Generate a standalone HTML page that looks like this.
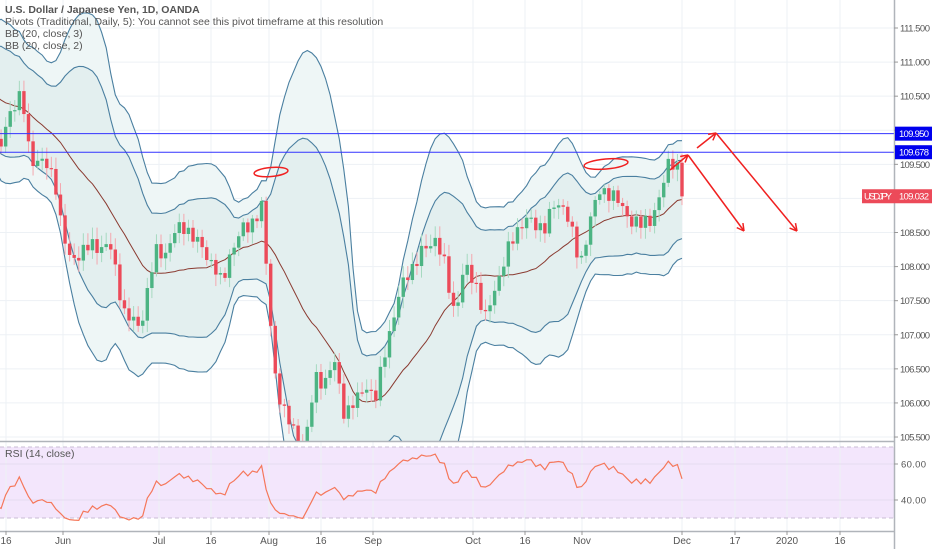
<!DOCTYPE html>
<html><head><meta charset="utf-8">
<style>
html,body{margin:0;padding:0;background:#fff;width:932px;height:550px;overflow:hidden;font-family:"Liberation Sans",sans-serif}
svg{display:block}
svg text{font-family:"Liberation Sans",sans-serif}
</style></head><body>
<svg id="c" width="932" height="550" xmlns="http://www.w3.org/2000/svg"></svg>
<script>
const S=document.getElementById('c');let h='';
const py=p=>28+(111.5-p)*68.17;
const cy=p=>Math.min(445,Math.max(-5,py(p)));
const ry=r=>Math.min(535,Math.max(440,518-(r-30)/40*71));
const xl=[[6,'16'],[63,'Jun'],[159,'Jul'],[211,'16'],[269,'Aug'],[321,'16'],[373,'Sep'],[473,'Oct'],[525,'16'],[582,'Nov'],[682,'Dec'],[735,'17'],[787,'2020'],[840,'16']];
h+='<rect x="0" y="447" width="894" height="71" fill="#f3e6fc"/>';
xl.forEach(a=>{h+=`<line x1="${a[0]}" y1="0" x2="${a[0]}" y2="531" stroke="#edf1f5"/>`});
for(let p=105.5;p<=111.51;p+=0.5){h+=`<line x1="0" y1="${py(p)}" x2="894" y2="${py(p)}" stroke="#edf1f5"/>`}
h+=`<line x1="0" y1="464" x2="894" y2="464" stroke="#e6dcf0"/><line x1="0" y1="500" x2="894" y2="500" stroke="#e6dcf0"/>`;
const anc=[[-95,110.7],[-60,110.9],[-30,110.3],[0,109.7],[10,110.3],[22,110.5],[30,109.6],[45,109.5],[55,109.3],[62,108.5],[70,108.1],[90,108.3],[110,108.3],[125,107.3],[140,107.1],[155,108.2],[165,108.2],[175,108.5],[185,108.6],[195,108.4],[205,108.2],[215,108.0],[222,107.7],[230,108.2],[240,108.5],[250,108.6],[262,108.9],[268,107.6],[276,106.3],[285,105.8],[295,105.6],[305,105.3],[315,106.4],[325,106.3],[335,106.6],[345,105.8],[355,106.0],[365,106.3],[375,106.0],[385,106.8],[395,107.3],[405,107.9],[415,108.0],[425,108.3],[435,108.4],[445,108.0],[455,107.3],[465,108.0],[475,107.8],[485,107.2],[495,107.7],[505,108.1],[515,108.5],[525,108.7],[535,108.6],[545,108.6],[555,108.9],[565,108.9],[575,108.3],[580,108.0],[590,108.7],[600,109.1],[610,109.1],[620,108.9],[630,108.7],[640,108.6],[650,108.7],[660,109.0],[668,109.5],[676,109.6],[682,109.03]];
function interp(x){for(let i=1;i<anc.length;i++){if(x<=anc[i][0]){const a=anc[i-1],b=anc[i];return a[1]+(b[1]-a[1])*(x-a[0])/(b[0]-a[0]);}}return anc[anc.length-1][1];}
const sp=4.57,N=170;const X=[],C=[];
for(let i=0;i<N;i++){const x=682-(N-1-i)*sp;X.push(x);let c=interp(x);if(i<N-1)c+=0.09*Math.sin(i*2.7)+0.05*Math.sin(i*1.3+1);C.push(c);}
const O=[],H=[],L=[];
for(let i=0;i<N;i++){const o=i?C[i-1]:C[0];O.push(o);H.push(Math.max(o,C[i])+0.05+0.12*Math.abs(Math.sin(i*3.1)));L.push(Math.min(o,C[i])-0.05-0.12*Math.abs(Math.cos(i*2.3)));}
const M=[],U2=[],D2=[],U3=[],D3=[],BX=[];
for(let i=19;i<N;i++){let s=0;for(let j=i-19;j<=i;j++)s+=C[j];const m=s/20;let v=0;for(let j=i-19;j<=i;j++)v+=(C[j]-m)**2;const sd=Math.sqrt(v/20);BX.push(X[i]);M.push(m);U2.push(m+2*sd);D2.push(m-2*sd);U3.push(m+3*sd);D3.push(m-3*sd);}
const pl=(A)=>A.map((p,k)=>`${BX[k].toFixed(1)},${cy(p).toFixed(1)}`).join(' ');
const area=(A,B)=>{const a=A.map((p,k)=>`${BX[k].toFixed(1)},${cy(p).toFixed(1)}`);const b=B.map((p,k)=>`${BX[k].toFixed(1)},${cy(p).toFixed(1)}`).reverse();return a.concat(b).join(' ');};
h+='<svg x="0" y="0" width="894" height="441" overflow="hidden">';
h+=`<polygon points="${area(U3,D3)}" fill="#eef6f6"/>`;
h+=`<polygon points="${area(U2,D2)}" fill="#e3efef"/>`;
[U3,D3,U2,D2].forEach(A=>{h+=`<polyline points="${pl(A)}" fill="none" stroke="#4a7fa0" stroke-width="1.1"/>`});
h+=`<polyline points="${pl(M)}" fill="none" stroke="#8a3a30" stroke-width="1"/>`;
for(let i=19;i<N;i++){const x=X[i];const up=C[i]>=O[i];const col=up?'#4cb483':'#ec4a59';const wc=up?'#a6d9c0':'#f4a7ae';
h+=`<line x1="${x}" y1="${cy(H[i])}" x2="${x}" y2="${cy(L[i])}" stroke="${wc}"/>`;
const t=cy(Math.max(O[i],C[i])),b=cy(Math.min(O[i],C[i]));h+=`<rect x="${x-1.7}" y="${t}" width="3.4" height="${Math.max(1.2,b-t)}" fill="${col}"/>`;}
h+='</svg>';
h+=`<line x1="0" y1="${py(109.95)}" x2="894" y2="${py(109.95)}" stroke="#3333ff"/>`;
h+=`<line x1="0" y1="${py(109.678)}" x2="894" y2="${py(109.678)}" stroke="#3333ff"/>`;
h+=`<ellipse cx="271" cy="172" rx="17" ry="4.5" fill="none" stroke="#f02020" stroke-width="1.5" transform="rotate(-5 271 172)"/>`;
h+=`<ellipse cx="606" cy="164" rx="22" ry="5" fill="none" stroke="#f02020" stroke-width="1.5" transform="rotate(-5 606 164)"/>`;
function arrow(x1,y1,x2,y2){const a=Math.atan2(y2-y1,x2-x1),l=8;let s=`<line x1="${x1}" y1="${y1}" x2="${x2}" y2="${y2}" stroke="#f02020" stroke-width="1.5"/>`;[0.5,-0.5].forEach(d=>{s+=`<line x1="${x2}" y1="${y2}" x2="${x2-l*Math.cos(a+d)}" y2="${y2-l*Math.sin(a+d)}" stroke="#f02020" stroke-width="1.5"/>`});return s;}
h+=arrow(670,170,688,155)+arrow(688,155,744,231)+arrow(697,148,716,133)+arrow(716,133,797,231);
h+=`<line x1="0" y1="447" x2="894" y2="447" stroke="#c8bcd4" stroke-dasharray="4,3"/><line x1="0" y1="518" x2="894" y2="518" stroke="#c8bcd4" stroke-dasharray="4,3"/>`;
let ag=0,al=0;const R=[];for(let i=1;i<N;i++){const d=C[i]-C[i-1];const g=Math.max(d,0),lo=Math.max(-d,0);if(i<=14){ag+=g/14;al+=lo/14;}else{ag=(ag*13+g)/14;al=(al*13+lo)/14;}if(i>=19){let r=100-100/(1+ag/(al||1e-9));r=50+(r-50)*0.7;R.push(`${X[i].toFixed(1)},${ry(r).toFixed(1)}`);}}
h+=`<polyline points="${R.join(' ')}" fill="none" stroke="#f5775a" stroke-width="1.2"/>`;
h+=`<line x1="0" y1="441.5" x2="894" y2="441.5" stroke="#b0b4ba" stroke-width="1.5"/>`;
h+=`<line x1="0" y1="531.5" x2="894" y2="531.5" stroke="#b0b4ba" stroke-width="1.5"/>`;
h+=`<line x1="894.5" y1="0" x2="894.5" y2="549" stroke="#b0b4ba" stroke-width="1.5"/>`;
const T=(x,y,s,fill,extra)=>`<text x="${x}" y="${y}" font-size="9.5" fill="${fill}" ${extra||''}>${s}</text>`;
for(let p=105.5;p<=111.51;p+=0.5){const y=py(p);h+=`<line x1="894" y1="${y}" x2="898" y2="${y}" stroke="#999"/>`+T(900,y+3.5,p.toFixed(3),'#555','textLength="30"');}
h+=`<line x1="894" y1="464" x2="898" y2="464" stroke="#999"/>`+T(901,467.5,'60.00','#555','textLength="25"');
h+=`<line x1="894" y1="500" x2="898" y2="500" stroke="#999"/>`+T(901,503.5,'40.00','#555','textLength="25"');
h+=`<rect x="895" y="${py(109.95)-7}" width="37" height="14" fill="#0000ee"/>`+T(899,py(109.95)+3.5,'109.950','#fff','textLength="30"');
h+=`<rect x="895" y="${py(109.678)-7}" width="37" height="14" fill="#0000ee"/>`+T(899,py(109.678)+3.5,'109.678','#fff','textLength="30"');
h+=`<rect x="862" y="${py(109.032)-7}" width="70" height="14" fill="#ec4a59"/>`+T(864,py(109.032)+3.5,'USDJPY','#fff','textLength="28"')+T(899,py(109.032)+3.5,'109.032','#fff','textLength="30"');
xl.forEach(a=>{h+=`<line x1="${a[0]}" y1="531" x2="${a[0]}" y2="535" stroke="#999"/><text x="${a[0]}" y="544" font-size="10" fill="#555" text-anchor="middle">${a[1]}</text>`});
h+=`<text x="5" y="13" font-size="10.5" font-weight="bold" fill="#555">U.S. Dollar / Japanese Yen, 1D, OANDA</text>`;
h+=`<text x="5" y="25" font-size="10.5" fill="#555">Pivots (Traditional, Daily, 5): You cannot see this pivot timeframe at this resolution</text>`;
h+=`<text x="5" y="37" font-size="10.5" fill="#555">BB (20, close, 3)</text><text x="5" y="49" font-size="10.5" fill="#555">BB (20, close, 2)</text>`;
h+=`<text x="5" y="457" font-size="10.5" fill="#555">RSI (14, close)</text>`;
S.innerHTML=h;
</script>
</body></html>
